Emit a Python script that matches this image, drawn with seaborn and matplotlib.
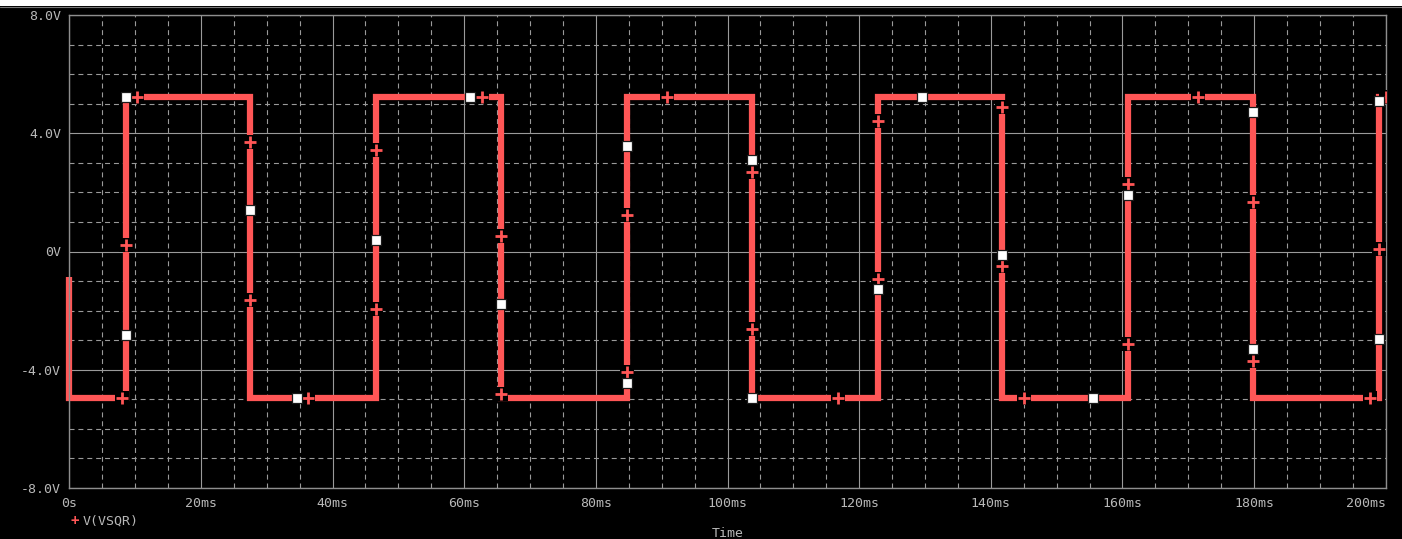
import matplotlib
matplotlib.use("Agg")
import matplotlib.pyplot as plt
from matplotlib.lines import Line2D
from matplotlib.patches import Rectangle
import seaborn as sns

# Square-wave trace V(VSQR): breakpoints (time in ms, voltage in V)
wave_t = [0.0, 0.0, 8.61, 8.61, 27.50, 27.50, 46.64, 46.64, 65.54, 65.54,
          84.78, 84.78, 103.68, 103.68, 122.87, 122.87, 141.71, 141.71,
          160.89, 160.89, 179.79, 179.79, 198.98, 198.98, 200.0]
wave_v = [-0.86, -4.97, -4.97, 5.22, 5.22, -4.97, -4.97, 5.22, 5.22, -4.97,
          -4.97, 5.22, 5.22, -4.97, -4.97, 5.22, 5.22, -4.97,
          -4.97, 5.22, 5.22, -4.97, -4.97, 5.22, 5.22]

# "+" trace markers
plus_t = [7.96, 8.61, 10.24, 27.50, 27.50, 36.22, 46.64, 46.64, 62.66, 65.54,
          65.54, 84.78, 84.78, 90.76, 103.68, 103.68, 116.79, 122.87, 122.87,
          141.71, 141.71, 145.09, 160.89, 160.89, 171.53, 179.79, 179.79,
          197.60, 198.98, 200.0]
plus_v = [-4.97, 0.23, 5.22, 3.71, -1.64, -4.97, 3.43, -1.95, 5.22, 0.51,
          -4.83, 1.22, -4.09, 5.22, 2.70, -2.63, -4.97, 4.41, -0.93,
          4.88, -0.49, -4.97, 2.27, -3.12, 5.22, 1.67, -3.69,
          -4.97, 0.08, 5.22]

# White square sample markers
sq_t = [8.61, 8.61, 27.50, 34.55, 46.64, 60.92, 65.54, 84.78, 84.78, 103.68,
        103.68, 122.87, 129.55, 141.71, 155.58, 160.89, 179.79, 179.79,
        198.98, 198.98]
sq_v = [5.22, -2.81, 1.41, -4.97, 0.39, 5.22, -1.78, 3.58, -4.44, 3.10,
        -4.97, -1.28, 5.22, -0.11, -4.97, 1.91, 4.72, -3.30,
        5.10, -2.96]

x_ticks = list(range(0, 201, 20))
x_labels = ["0s"] + [f"{v}ms" for v in x_ticks[1:]]
y_ticks = [-8, -4, 0, 4, 8]
y_labels = ["-8.0V", "-4.0V", "0V", "4.0V", "8.0V"]

TRACE = "#ff5656"
TEXT = "#b8b8b8"
GRID = "#9a9a9a"
SPINE = "#8e8e8e"

sns.set_style("dark", {
    "axes.facecolor": "black",
    "figure.facecolor": "black",
    "axes.edgecolor": SPINE,
    "grid.color": GRID,
})
plt.rcParams["font.family"] = ["DejaVu Sans Mono", "DejaVu Sans"]

W, H = 1402, 539
fig = plt.figure(figsize=(W / 100, H / 100), dpi=100)
fig.patch.set_facecolor("black")

left, right, top, bottom = 69.3, 1385.7, 15.0, 488.0
ax = fig.add_axes([left / W, 1 - bottom / H, (right - left) / W, (bottom - top) / H])
ax.set_facecolor("black")

# Trace
sns.lineplot(x=wave_t, y=wave_v, sort=False, estimator=None, ax=ax,
             color=TRACE, linewidth=4.5, solid_joinstyle="miter",
             solid_capstyle="butt", zorder=2)
ax.lines[-1].set_clip_on(False)

# Black backing boxes under the "+" markers (break the trace)
sns.scatterplot(x=plus_t, y=plus_v, marker="s", s=(13.5 * 0.72) ** 2,
                color="black", linewidth=0, ax=ax, zorder=3)
sns.scatterplot(x=plus_t, y=plus_v, marker="+", s=(11.5 * 0.72) ** 2,
                color=TRACE, linewidth=2.0, ax=ax, zorder=4)
sns.scatterplot(x=sq_t, y=sq_v, marker="s", s=(10.5 * 0.72) ** 2,
                facecolor="white", edgecolor="#1a1a1a", linewidth=0.9,
                ax=ax, zorder=5)

ax.set_xlim(0, 200)
ax.set_ylim(-8, 8)
ax.set_xticks(x_ticks)
ax.set_xticklabels(x_labels)
ax.set_xticks(range(0, 201, 5), minor=True)
ax.set_yticks(y_ticks)
ax.set_yticklabels(y_labels)
ax.set_yticks(range(-8, 9, 1), minor=True)

ax.grid(which="major", color=GRID, linestyle="-", linewidth=0.8)
ax.grid(which="minor", color=GRID, linestyle=(0, (4.5, 3.5)), linewidth=0.8)
ax.set_axisbelow(True)

ax.tick_params(which="major", direction="out", length=3.8, width=0.8,
               color=SPINE, labelcolor=TEXT, labelsize=9.5, pad=2.5)
ax.tick_params(which="minor", length=0)
ax.tick_params(axis="y", pad=2.0)
# The last time label sits flush with the right frame edge
ax.get_xticklabels()[-1].set_horizontalalignment("right")
for sp in ax.spines.values():
    sp.set_visible(True)
    sp.set_color(SPINE)
    sp.set_linewidth(1.0)
ax.set_xlabel("")
ax.set_ylabel("")

# Legend entry and axis title
fig.text(75 / W, 1 - 521 / H, "+", color=TRACE, fontsize=10,
         ha="center", va="center", fontweight="bold")
fig.text(83 / W, 1 - 521 / H, "V(VSQR)", color=TEXT, fontsize=9.5,
         ha="left", va="center")
fig.text(728 / W, 1 - 527 / H, "Time", color=TEXT, fontsize=9.5,
         ha="center", va="top")

# White strip along the top edge
fig.patches.append(Rectangle((0, 1 - 6 / H), 1, 6 / H, transform=fig.transFigure,
                             facecolor="white", edgecolor="none", zorder=10))
fig.add_artist(Line2D([0, 1], [1 - 6.5 / H, 1 - 6.5 / H], transform=fig.transFigure,
                      color="#777777", linewidth=0.8))

fig.savefig("out.png", dpi=100, facecolor="black")
